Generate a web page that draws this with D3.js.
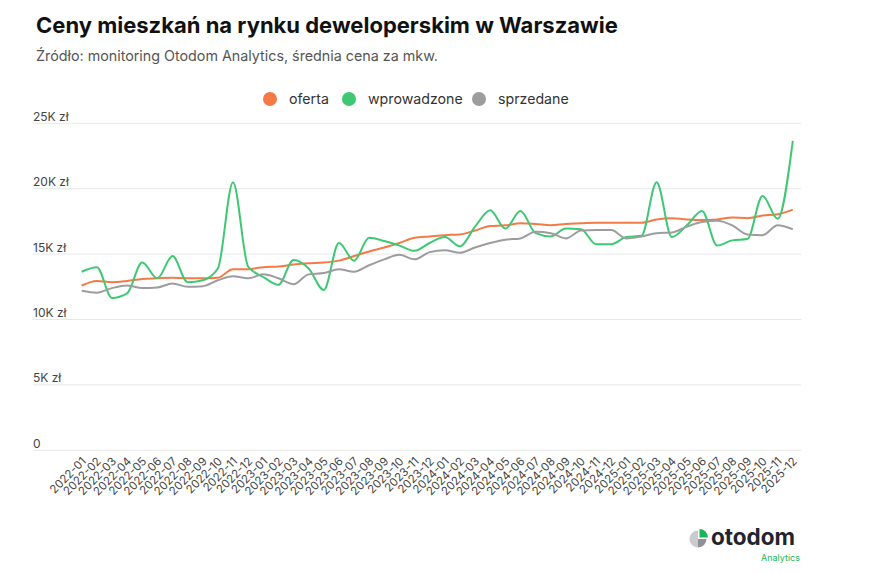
<!DOCTYPE html>
<html>
  <head>
    <meta charset="utf-8">
    <script src="https://cdn.jsdelivr.net/npm/d3@7/dist/d3.min.js"></script>
    <style>
      body {
        margin: 0;
        background: #fff;
        font-family: Inter, "Noto Sans", sans-serif;
      }
      .grid line {
        stroke: #e8e8e8;
        stroke-width: 1px;
      }
      .series {
        fill: none;
        stroke-width: 2px;
      }
    </style>
  </head>
  <body>
    <script>
      const width = 881;
      const height = 573;

      const months = [];
      [2022, 2023, 2024, 2025].forEach(y => {
        for (let m = 1; m <= 12; m++) months.push(y + '-' + String(m).padStart(2, '0'));
      });

      // average price per m2, thousands of zł
      const oferta = [
        12.6, 12.95, 12.85, 12.95, 13.1, 13.15, 13.2, 13.15, 13.15, 13.2, 13.85, 13.85,
        14.0, 14.05, 14.2, 14.3, 14.35, 14.5, 14.85, 15.2, 15.5, 15.85, 16.25, 16.35,
        16.45, 16.5, 16.8, 17.15, 17.2, 17.35, 17.3, 17.2, 17.3, 17.35, 17.4, 17.4,
        17.4, 17.4, 17.65, 17.75, 17.65, 17.6, 17.65, 17.8, 17.75, 17.95, 18.05, 18.4
      ];
      const wprowadzone = [
        13.65, 14.0, 11.65, 12.0, 14.35, 13.15, 14.85, 12.85, 13.0, 13.9, 20.5, 14.05,
        13.25, 12.65, 14.55, 13.9, 12.25, 15.85, 14.5, 16.25, 16.0, 15.65, 15.25, 15.85,
        16.3, 15.6, 17.1, 18.35, 16.95, 18.3, 16.6, 16.35, 16.95, 16.9, 15.75, 15.75,
        16.3, 16.4, 20.5, 16.3, 17.2, 18.3, 15.65, 16.05, 16.15, 19.45, 17.7, 23.65
      ];
      const sprzedane = [
        12.2, 12.05, 12.4, 12.6, 12.4, 12.45, 12.75, 12.5, 12.55, 13.0, 13.3, 13.15,
        13.45, 13.15, 12.7, 13.45, 13.55, 13.85, 13.65, 14.15, 14.6, 14.95, 14.6, 15.15,
        15.3, 15.1, 15.5, 15.85, 16.1, 16.2, 16.7, 16.6, 16.2, 16.8, 16.85, 16.85,
        16.2, 16.35, 16.6, 16.65, 17.1, 17.45, 17.55, 17.2, 16.5, 16.45, 17.2, 16.9
      ];

      const seriesNames = ['oferta', 'wprowadzone', 'sprzedane'];
      const seriesColors = ['#f47a45', '#3fc873', '#9d9d9d'];
      const seriesValues = [oferta, wprowadzone, sprzedane];

      const yTicks = [0, 5, 10, 15, 20, 25];
      const yTickLabels = ['0', '5K zł', '10K zł', '15K zł', '20K zł', '25K zł'];

      const x = d3.scalePoint()
        .domain(months)
        .range([81.7, 792.8]);

      const y = d3.scaleLinear()
        .domain([0, 25])
        .range([450.3, 123.3]);

      const svg = d3.select('body')
        .append('svg')
        .attr('width', width)
        .attr('height', height);

      // title + subtitle
      svg.append('text')
        .attr('x', 36)
        .attr('y', 33)
        .style('font-size', '22px')
        .style('font-weight', 700)
        .style('fill', '#111')
        .text('Ceny mieszkań na rynku deweloperskim w Warszawie');

      svg.append('text')
        .attr('x', 36)
        .attr('y', 61)
        .style('font-size', '14.3px')
        .style('fill', '#555')
        .text('Źródło: monitoring Otodom Analytics, średnia cena za mkw.');

      // legend
      const legendX = [270, 349, 479];
      const legend = svg.append('g');
      seriesNames.forEach((name, i) => {
        legend.append('circle')
          .attr('cx', legendX[i])
          .attr('cy', 99)
          .attr('r', 7)
          .style('fill', seriesColors[i]);
        legend.append('text')
          .attr('x', legendX[i] + 19)
          .attr('y', 104)
          .style('font-size', '14.2px')
          .style('fill', '#333')
          .text(name);
      });

      // grid + y labels
      const grid = svg.append('g').attr('class', 'grid');
      grid.selectAll('line')
        .data(yTicks)
        .enter()
        .append('line')
        .attr('x1', 33)
        .attr('x2', 801)
        .attr('y1', d => y(d))
        .attr('y2', d => y(d));

      svg.selectAll('.ylabel')
        .data(yTicks)
        .enter()
        .append('text')
        .attr('class', 'ylabel')
        .attr('x', 33)
        .attr('y', d => y(d) - 2.5)
        .style('font-size', '12px')
        .style('fill', '#444')
        .text((d, i) => yTickLabels[i]);

      // x labels, rotated
      svg.selectAll('.xlabel')
        .data(months)
        .enter()
        .append('text')
        .attr('class', 'xlabel')
        .attr('transform', d => `translate(${x(d) + 5},${462}) rotate(-45)`)
        .attr('text-anchor', 'end')
        .style('font-size', '11.5px')
        .style('fill', '#444')
        .text(d => d);

      // lines
      const line = d3.line()
        .x((d, i) => x(months[i]))
        .y(d => y(d))
        .curve(d3.curveMonotoneX);

      seriesValues.forEach((vals, i) => {
        svg.append('path')
          .attr('class', 'series')
          .attr('d', line(vals))
          .style('stroke', seriesColors[i]);
      });

      // otodom logo
      const logo = svg.append('g').attr('transform', 'translate(698,539)');
      const arc = d3.arc().innerRadius(0).outerRadius(8.5);
      logo.append('path')
        .attr('d', arc({startAngle: Math.PI, endAngle: 2 * Math.PI}))
        .style('fill', '#c9cbcf');
      logo.append('path')
        .attr('d', arc({startAngle: Math.PI / 2, endAngle: Math.PI}))
        .style('fill', '#8e9196');
      logo.append('path')
        .attr('transform', 'translate(1.5,-1.5)')
        .attr('d', arc({startAngle: 0, endAngle: Math.PI / 2}))
        .style('fill', '#1bb45a');

      svg.append('text')
        .attr('x', 711)
        .attr('y', 545)
        .style('font-size', '22.5px')
        .style('font-weight', 700)
        .style('fill', '#1f2530')
        .text('otodom');

      svg.append('text')
        .attr('x', 800)
        .attr('y', 561)
        .attr('text-anchor', 'end')
        .style('font-size', '9px')
        .style('fill', '#1bb45a')
        .text('Analytics');
    </script>
  </body>
</html>
